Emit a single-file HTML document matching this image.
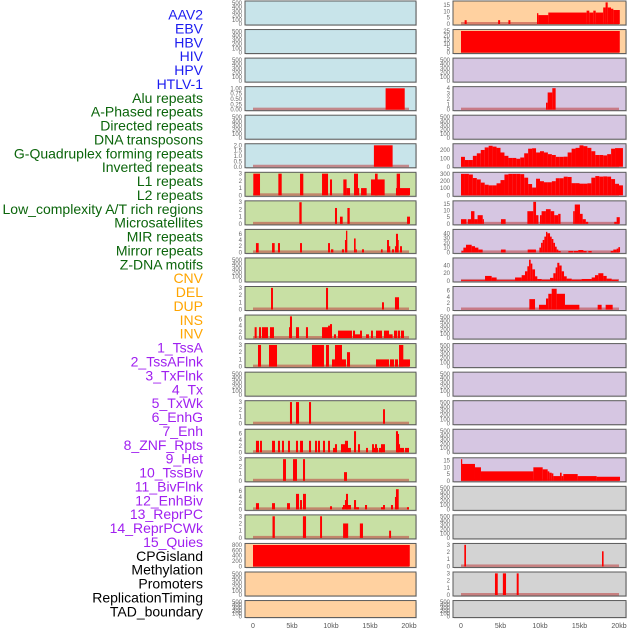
<!DOCTYPE html>
<html><head><meta charset="utf-8">
<style>
html,body{margin:0;padding:0;background:#fff;}
svg{display:block;font-family:"Liberation Sans",sans-serif;}
</style></head>
<body>
<svg id="chart" width="630" height="630" viewBox="0 0 630 630" xmlns="http://www.w3.org/2000/svg">
<g id="labels"></g>
<g id="panels"></g>
<g id="xaxis"></g>
</svg>
<script>
// ---- labels ----
const labelNames = ["AAV2","EBV","HBV","HIV","HPV","HTLV-1","Alu repeats","A-Phased repeats","Directed repeats","DNA transposons","G-Quadruplex forming repeats","Inverted repeats","L1 repeats","L2 repeats","Low_complexity A/T rich regions","Microsatellites","MIR repeats","Mirror repeats","Z-DNA motifs","CNV","DEL","DUP","INS","INV","1_TssA","2_TssAFlnk","3_TxFlnk","4_Tx","5_TxWk","6_EnhG","7_Enh","8_ZNF_Rpts","9_Het","10_TssBiv","11_BivFlnk","12_EnhBiv","13_ReprPC","14_ReprPCWk","15_Quies","CPGisland","Methylation","Promoters","ReplicationTiming","TAD_boundary"];
const labelGroups = [6,13,5,15,5];
const groupColors = ["#1c1cf0","#0b650b","#ffa500","#a020f0","#000000"];
// ---- x axis ----
const xTickKb = [0,5,10,15,20];
const xTickText = ["0","5kb","10kb","15kb","20kb"];
// ---- tick sets ----
const t500=[0,100,200,300,400,500];
const t3=[0,1,2,3];
const t6=[0,2,4,6];
// ---- left column data [startKb,endKb,value] ----
const aluL=[[17.0,19.45,1]];
const gquadL=[[15.5,17.9,2]];
const l1L=[[0.04,0.9,3],[3.25,3.68,3],[6.03,6.45,3],[8.85,9.62,3],[9.87,10.13,2.2],[11.58,12.0,2.2],[12.0,12.44,1],[12.95,13.46,3],[13.46,13.59,1],[13.85,14.57,1],[15.13,16.88,2.2],[15.64,15.98,3],[18.33,20.13,1],[18.42,18.85,3]];
const lowL=[[5.94,6.24,3],[10.51,10.77,2.2],[11.15,11.5,1],[12.1,12.4,2.2],[19.75,20.13,1]];
const mirL=[[0.38,0.73,3],[2.44,2.78,3],[3.2,3.46,3],[6.03,6.28,3],[9.62,9.87,3],[10.0,10.3,1],[11.4,11.67,1],[11.79,12.0,4],[11.92,12.09,7],[12.95,13.16,4.5],[13.16,13.29,1],[13.97,14.23,1],[16.41,16.62,1],[17.18,17.44,4],[17.44,17.56,2],[17.82,18.08,1],[18.2,18.42,2],[18.33,18.59,6],[18.5,18.68,4],[18.85,19.1,2]];
const delL=[[2.31,2.56,3],[9.36,9.62,3],[16.54,16.79,1],[18.2,18.72,1.7]];
const insL=[[0.21,0.47,3.5],[0.77,1.03,3.5],[1.15,1.92,3.5],[2.18,2.69,3.5],[4.62,4.87,3.5],[4.74,5.0,7],[5.51,5.9,3.5],[6.79,7.05,3.5],[8.85,9.87,3.5],[9.62,9.87,4],[9.87,10.13,4.5],[10.38,10.64,1.2],[10.9,12.69,2.4],[12.82,13.08,2.4],[13.08,13.72,1.2],[13.72,13.97,2.4],[14.49,14.87,1.2],[15.13,15.38,2.4],[15.77,16.54,2.4],[16.79,17.44,2.4],[17.44,17.9,1.2],[18.08,18.5,2.4],[18.59,18.85,2.4],[18.97,19.36,2.4]];
const tssaL=[[0.64,1.03,3],[2.05,3.08,3],[7.56,9.1,3],[9.36,9.74,3],[10.13,10.51,1],[10.51,11.41,3],[11.41,11.92,1],[12.05,12.44,2],[15.77,17.44,1],[17.56,18.08,1],[18.2,18.59,1],[18.72,19.27,3],[18.72,20.13,1]];
const txwkL=[[4.74,5.0,3],[5.51,5.9,3],[7.18,7.44,3],[16.67,16.92,2]];
const enhL=[[0.38,0.77,3.7],[0.9,1.15,3.7],[2.44,2.82,3.7],[3.2,3.46,3.7],[3.72,3.97,3.7],[4.49,4.74,3.7],[5.51,5.77,3.7],[6.03,6.41,3.7],[7.18,7.44,3.7],[7.95,8.21,3.7],[8.33,8.59,3.7],[8.97,9.23,3.7],[9.62,9.87,3.7],[10.26,10.51,1.4],[10.51,10.77,2.6],[11.28,11.92,2.6],[11.79,12.18,3.7],[12.18,12.56,1.4],[12.95,13.21,6.8],[13.46,13.72,2.6],[14.49,14.74,1.4],[15.26,15.51,2.6],[15.51,16.03,1.4],[15.64,15.9,2.6],[16.15,16.54,1.4],[16.41,16.92,2.6],[18.33,18.59,6.8],[18.46,18.72,5.9],[18.59,18.85,2.6],[18.85,19.36,1.4],[19.49,20.0,1.4]];
const hetL=[[3.85,4.23,3],[5.13,5.64,3],[6.41,6.67,3],[11.67,12.05,1.2]];
const bivL=[[0.38,0.77,2],[2.44,2.82,2],[4.36,4.74,2],[5.51,5.9,5],[6.03,6.28,3],[6.41,6.79,5],[9.87,10.13,1],[11.41,11.67,0.7],[11.54,11.79,1.4],[11.79,12.05,3],[11.92,12.18,5],[12.05,12.56,1.4],[12.95,13.21,3],[13.21,13.59,0.7],[14.36,14.62,1.4],[16.41,16.79,0.7],[16.67,16.92,1.4],[17.69,17.95,1.4],[18.2,18.46,4],[18.33,18.68,6.5],[19.74,20.0,0.7]];
const reprL=[[2.5,2.8,3],[6.4,6.8,3],[8.6,8.85,3],[11.55,12.2,2],[13.7,14.1,2],[17.45,17.7,1]];
const cpgL=[[0,20.1,800]];
// ---- right column data ----
const aavR=[[0.46,0.72,3],[4.7,4.95,3],[6.0,6.25,3],[9.62,9.79,8.5],[9.79,11.05,7],[11.05,15.9,9],[15.9,16.24,10.5],[16.24,16.75,9],[16.75,17.05,10.5],[17.05,18.0,9],[18.0,18.3,13],[18.3,18.57,17],[18.57,18.99,13],[18.99,19.28,12],[19.28,20.1,11]];
const ebvR=[[0,20.1,25]];
const aluR=[[10.76,10.97,1.3],[10.97,11.56,3.2],[11.56,11.98,4]];
const gqBinsR=[118,80,80,130,160,200,230,250,240,225,170,130,105,105,95,110,160,215,220,170,185,170,150,140,118,118,120,170,215,225,255,245,225,185,140,140,135,150,215,222,222];
const invBinsR=[304,304,295,245,225,180,150,141,141,170,216,295,304,304,304,300,250,160,110,235,200,185,185,200,242,242,264,260,172,172,165,165,170,250,273,265,268,265,230,163,141];
const lowR=[[0,0.7,3.5],[0.85,1.27,3.5],[1.27,1.7,9.5],[1.7,2.1,3.5],[2.1,2.75,6.5],[2.75,2.8,3.5],[5.06,5.65,3.5],[8.4,9.15,9.5],[9.15,9.5,16.5],[9.5,9.8,6.5],[10,10.2,6.5],[10.2,10.75,9.5],[10.75,11.35,11],[11.35,11.8,9.5],[11.8,12.3,6.5],[12.3,12.6,7.5],[14.2,14.4,9.5],[14.4,15.06,14.5],[15.06,15.4,7.5],[15.4,15.8,3.5],[15.8,16.1,1.5],[19.4,19.7,1.5],[19.7,20.1,5]];
const microR=[[0.08,0.3,3],[0.3,0.63,10],[0.63,1.35,16],[1.35,1.77,13],[1.77,2.2,10],[2.2,2.74,6],[5.06,5.65,6],[8.44,9.49,6],[9.92,10.13,10],[10.13,10.34,20],[10.34,10.55,26],[10.55,10.76,33],[10.76,10.93,43],[10.93,11.27,40],[11.27,11.48,33],[11.48,11.69,28],[11.69,11.9,20],[11.9,12.11,12],[12.11,12.32,6],[12.32,12.62,3],[13.59,14.22,3],[14.3,14.85,3],[14.85,15.49,5],[15.49,15.9,3],[16.12,16.54,3],[18.95,19.28,3],[19.28,19.7,6],[19.7,19.92,8],[19.92,20.13,11]];
const mirR=[[0,3.04,2],[3.04,3.88,13],[3.88,4.51,9],[4.51,6.84,2],[6.84,7.68,9],[7.68,8.1,15],[8.1,8.4,25],[8.4,8.61,38],[8.61,8.82,55],[8.82,9.03,45],[9.03,9.37,30],[9.37,9.66,12],[9.66,10.21,5],[10.21,11.27,3],[11.27,11.69,8],[11.69,11.98,20],[11.98,12.19,35],[12.19,12.45,47],[12.45,12.74,40],[12.74,13.04,25],[13.04,13.38,12],[13.38,14.01,6],[14.01,15.27,3],[15.27,16.54,5],[16.54,16.96,9],[16.96,17.38,15],[17.38,18.02,20],[18.02,18.44,13],[18.44,19.07,6],[19.07,19.92,3]];
const zdnaR=[[8.65,9.37,3.3],[9.87,10.76,1.5],[10.76,11.05,3.5],[11.05,11.48,5],[11.48,12.11,6.6],[12.11,13.16,5],[13.16,14.98,1.5],[17.3,17.8,1.5],[18.31,19.2,1.5]];
const tssbivR=[[0,0.13,16],[0.13,1.77,12.5],[1.77,2.53,10],[2.53,9.16,7],[9.16,10.34,10],[10.34,10.97,8.5],[10.97,11.18,7],[11.18,11.48,6],[11.48,11.69,5.5],[11.69,12.53,3.5],[12.53,12.74,6],[12.74,12.95,3.5],[12.95,14.77,5],[14.77,17.17,3.5],[17.17,20.13,3]];
const cpgR=[[0.42,0.63,3],[17.85,18.05,2.1]];
const promR=[[4.3,4.65,3],[5.3,5.7,3],[7.05,7.3,3]];

function bins2segs(b){return b.map((v,i)=>[i*0.5,i*0.5+0.5,v]);}
const BLUE="#c8e4ea",GREEN="#c8e0a4",PEACH="#ffd1a0",PURP="#d6c6e2",GRAY="#d3d3d3";
const left=[
 {bg:BLUE,ticks:t500,ymax:520},{bg:BLUE,ticks:t500,ymax:520},{bg:BLUE,ticks:t500,ymax:520},
 {bg:BLUE,ticks:[0,0.25,0.5,0.75,1],dec:2,ymax:1.03,d:aluL},
 {bg:BLUE,ticks:t500,ymax:520},
 {bg:BLUE,ticks:[0,0.5,1,1.5,2],dec:1,ymax:2.05,d:gquadL},
 {bg:GREEN,ticks:t3,ymax:3.05,d:l1L},{bg:GREEN,ticks:t3,ymax:3.05,d:lowL},
 {bg:GREEN,ticks:t6,ymax:7.1,d:mirL},{bg:GREEN,ticks:t500,ymax:520},
 {bg:GREEN,ticks:t3,ymax:3.05,d:delL},{bg:GREEN,ticks:t6,ymax:7.1,d:insL},
 {bg:GREEN,ticks:t3,ymax:3.05,d:tssaL},{bg:GREEN,ticks:t500,ymax:520},
 {bg:GREEN,ticks:t3,ymax:3.05,d:txwkL},{bg:GREEN,ticks:t6,ymax:7.1,d:enhL},
 {bg:GREEN,ticks:t3,ymax:3.05,d:hetL},{bg:GREEN,ticks:t6,ymax:7.1,d:bivL},
 {bg:GREEN,ticks:t3,ymax:3.05,d:reprL},
 {bg:PEACH,ticks:[0,200,400,600,800],ymax:820,d:cpgL},
 {bg:PEACH,ticks:t500,ymax:520},{bg:PEACH,ticks:t500,ymax:520}
];
const right=[
 {bg:PEACH,ticks:[0,5,10,15],ymax:17.3,d:aavR},
 {bg:PEACH,ticks:[0,5,10,15,20,25],ymax:25.5,d:ebvR},
 {bg:PURP,ticks:t500,ymax:520},
 {bg:PURP,ticks:[0,1,2,3,4],ymax:4.1,d:aluR},
 {bg:PURP,ticks:t500,ymax:520},
 {bg:PURP,ticks:[0,100,200],ymax:262,d:bins2segs(gqBinsR)},
 {bg:PURP,ticks:[0,100,200,300],ymax:312,d:bins2segs(invBinsR)},
 {bg:PURP,ticks:[0,5,10,15],ymax:16.5,d:lowR},
 {bg:PURP,ticks:[0,10,20,30,40],ymax:46,d:microR},
 {bg:PURP,ticks:[0,20,40],ymax:57,d:mirR},
 {bg:PURP,ticks:t6,ymax:7,d:zdnaR},
 {bg:PURP,ticks:t500,ymax:520},{bg:PURP,ticks:t500,ymax:520},{bg:PURP,ticks:t500,ymax:520},
 {bg:PURP,ticks:t500,ymax:520},{bg:PURP,ticks:t500,ymax:520},
 {bg:PURP,ticks:[0,5,10,15],ymax:16.3,d:tssbivR},
 {bg:GRAY,ticks:t500,ymax:520},{bg:GRAY,ticks:t500,ymax:520},
 {bg:GRAY,ticks:t3,ymax:3.05,d:cpgR},{bg:GRAY,ticks:t3,ymax:3.05,d:promR},
 {bg:GRAY,ticks:t500,ymax:520}
];
const NS="http://www.w3.org/2000/svg";
function mk(tag,attrs,parent){const e=document.createElementNS(NS,tag);for(const k in attrs)e.setAttribute(k,attrs[k]);parent.appendChild(e);return e;}

// labels
const lg=document.getElementById("labels");
let gi=0,cnt=0;
labelNames.forEach((n,i)=>{
  while(cnt>=labelGroups[gi]){cnt-=labelGroups[gi];gi++;}
  cnt++;
  const t=mk("text",{x:203,y:(14.5+i*13.88+5).toFixed(1),"text-anchor":"end","font-size":"14",fill:groupColors[gi]},lg);
  
  
  t.textContent=n;
});

const pg=document.getElementById("panels");
function drawCol(cfg,px,pw,x0,pxPerKb,side){
  cfg.forEach((p,i)=>{
    const top=1+i*28.55, h=(i===21?17:24);
    const g=mk("g",{},pg);
    
    
    const bg=mk("rect",{x:px+1,y:top+1,width:pw,height:h,fill:"#bbb",opacity:0.5},g);
    const r=mk("rect",{x:px,y:top,width:pw,height:h,fill:p.bg,stroke:"#5a5a5a","stroke-width":1},g);
    
    
    const y0=top+h-1, y1=top+1;
    const ys=v=>y0-(v/p.ymax)*(y0-y1);
    const xs=k=>x0+k*pxPerKb;
    p.ticks.forEach(tv=>{
      const t=mk("text",{x:px-3,y:(ys(tv)+2).toFixed(1),"text-anchor":"end","font-size":"6",fill:"#666"},g);
      
      
      t.textContent=p.dec?tv.toFixed(p.dec):String(tv);
    });
    if(p.d){
      const bl=mk("rect",{x:xs(0),y:y0-2,width:xs(20)-xs(0),height:2.5,fill:"rgba(190,60,60,0.55)"},g);
      
      
      p.d.forEach(s=>{
        const x=xs(s[0]), w=Math.max(1.2,xs(s[1])-x), yt=ys(s[2]);
        const b=mk("rect",{x:x.toFixed(2),y:yt.toFixed(2),width:w.toFixed(2),height:(y0-yt).toFixed(2),fill:"#ff0000"},g);
        
        
      });
    }
  });
  const ax=document.getElementById("xaxis");
  xTickKb.forEach((k,j)=>{
    const t=mk("text",{x:x0+k*pxPerKb,y:628,"text-anchor":"middle","font-size":"7",fill:"#555"},ax);
    
    
    t.textContent=xTickText[j];
  });
}
drawCol(left,245,171,253,7.8,'left');
drawCol(right,453,173,461,7.9,'right');
</script>
</body></html>
